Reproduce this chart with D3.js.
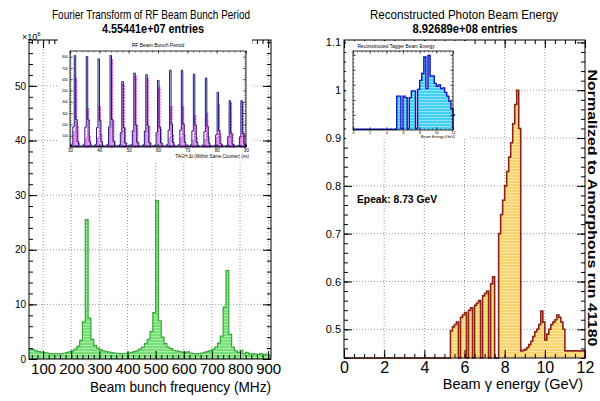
<!DOCTYPE html>
<html>
<head>
<meta charset="utf-8">
<script src="https://cdn.jsdelivr.net/npm/d3@7"></script>
<style>
  body { margin: 0; background: #fff; }
  svg { display: block; }
  text { font-family: 'Liberation Sans', Arial, Helvetica, sans-serif; }
</style>
</head>
<body>
<svg id="chart" width="600" height="401"></svg>
<script>
// ---- data ----
// left: FFT of RF bunch period, 10 MHz bins starting at 50 MHz (units of 1e6)
const freqStart = 50
const freqStep = 10
const freqCounts = [
    1.9, 1.7, 1.5, 1.35, 1.25, 1.15, 1.1, 1.0, 0.95, 0.95,
    0.95, 1.0, 1.05, 1.15, 1.3, 1.5, 1.8, 2.3, 3.4, 6.8,
    25.5, 7.5, 3.6, 2.5, 2.0, 1.7, 1.5, 1.35, 1.25, 1.15,
    1.1, 1.05, 1.0, 1.0, 1.05, 1.1, 1.2, 1.35, 1.5, 1.8,
    2.2, 2.8, 3.6, 5.0, 8.5, 29.0, 7.0, 4.0, 2.8, 2.2,
    1.9, 1.6, 1.5, 1.35, 1.25, 1.15, 1.3, 1.1, 1.0, 1.0,
    0.95, 1.1, 1.2, 1.35, 1.55, 1.8, 2.2, 2.9, 4.2, 9.5,
    16.2, 4.5, 2.2, 1.5, 1.2, 1.6, 1.0, 1.2, 0.9, 1.0,
    0.9, 0.85, 1.0, 0.8, 0.9, 0.7
]
const freqTicks = [100, 200, 300, 400, 500, 600, 700, 800, 900]
const countTicks = [0, 10, 20, 30, 40, 50]

// left inset: TAGH time difference peaks (ns) and heights
const rfPeakTimes = [31.7, 35.8, 39.8, 43.9, 47.9, 52.0, 56.1, 60.1, 64.2, 68.2, 72.3, 76.4, 80.4, 84.5, 88.5]
const rfBlueHeights = [810, 800, 780, 810, 580, 655, 640, 590, 680, 680, 645, 610, 485, 410, 410]
const rfPinkHeights = [610, 340, 360, 780, 560, 630, 610, 530, 360, 360, 280, 300, 380, 390, 400]
const rfProfile = [0.03, 0.22, 1, 0.3, 0.06]   // relative bin heights across one peak, 0.5 ns bins
const rfTimeTicks = [30, 40, 50, 60, 70, 80, 90]
const rfCountTicks = [100, 200, 300, 400, 500, 600, 700, 800]

// right: photon beam energy normalised to amorphous, 0.1 GeV bins from 5.3 GeV
const energyStart = 5.3
const energyStep = 0.1
const energyRatio = [
    0.497, 0.505, 0.51, 0.515, 0, 0.525, 0.53, 0.535, 0, 0.54,
    0.545, 0, 0.55, 0.555, 0.56, 0, 0.57, 0.575, 0.58, 0,
    0.595, 0.61, 0, 0, 0.70, 0.74, 0.77, 0.80, 0.83, 0.86,
    0.89, 0.93, 0.97, 1.0, 0.92, 0.455, 0.456, 0.458, 0.462, 0.468,
    0.475, 0.485, 0.495, 0.50, 0.51, 0.538, 0.515, 0.478, 0.49, 0.50,
    0.51, 0.515, 0.52, 0.53, 0.525, 0.515, 0.50, 0.455
]
const energyTicks = [0, 2, 4, 6, 8, 10, 12]
const ratioTicks = [0.5, 0.6, 0.7, 0.8, 0.9, 1, 1.1]

// right inset: tagger beam energy, 0.25 GeV bins from 5.25 GeV (relative)
const tagStart = 5.25
const tagStep = 0.25
const tagCounts = [
    0.45, 0.45, 0.02, 0.45, 0.43, 0.02, 0.43, 0.52, 0.52, 0.02,
    0.54, 0.66, 0.75, 0.97, 0.55, 0.99, 0.72, 0.72, 0.62, 0.58,
    0.60, 0.55, 0.56, 0.50, 0.45, 0.38, 0.28, 0.20
]
const tagTicks = [0, 2, 4, 6, 8, 10, 12]

// ---- layout ----
const svg = d3.select('#chart')
svg.append('rect').attr('width', 600).attr('height', 401).attr('fill', '#fff')

const fL = { x0: 29, x1: 271, y0: 40, y1: 359 }
const fR = { x0: 344, x1: 585, y0: 40, y1: 358 }

const xL = d3.scaleLinear().domain([50, 910]).range([fL.x0, fL.x1])
const yL = d3.scaleLinear().domain([0, 58.4]).range([fL.y1, fL.y0])
const xR = d3.scaleLinear().domain([0, 12]).range([fR.x0, fR.x1])
const yR = d3.scaleLinear().domain([0.44, 1.105]).range([fR.y1, fR.y0])

const defs = svg.append('defs')
function stripes(id, base, line) {
    const p = defs.append('pattern').attr('id', id)
        .attr('patternUnits', 'userSpaceOnUse').attr('width', 6).attr('height', 3)
    p.append('rect').attr('width', 6).attr('height', 3).attr('fill', base)
    p.append('rect').attr('width', 6).attr('height', 1).attr('fill', line)
}
stripes('pGreen', '#78df78', '#a6eea6')
stripes('pYellow', '#f9d46c', '#fce6a6')
stripes('pCyan', '#45cff4', '#8fe4fa')

function grid(g, x, y, f, xs, ys) {
    g.selectAll(null).data(xs).enter().append('line')
        .attr('x1', d => x(d)).attr('x2', d => x(d))
        .attr('y1', f.y0).attr('y2', f.y1)
        .attr('stroke', '#9a9a9a').attr('stroke-dasharray', '1,2')
    g.selectAll(null).data(ys).enter().append('line')
        .attr('x1', f.x0).attr('x2', f.x1)
        .attr('y1', d => y(d)).attr('y2', d => y(d))
        .attr('stroke', '#9a9a9a').attr('stroke-dasharray', '1,2')
}

// ROOT style: ticks inside the frame on all four sides
function frameTicks(g, x, y, f, o) {
    const sz = o.size || 1
    const add = (axis, tx, ty) => {
        const a = g.append('g').attr('transform', `translate(${tx},${ty})`).call(axis)
        a.select('.domain').remove()
        a.selectAll('line').attr('stroke', '#000').attr('stroke-width', o.tickWidth || 1)
        return a
    }
    add(d3.axisBottom(x).tickValues(o.xMinor).tickSize(-4 * sz).tickFormat(''), 0, f.y1)
    add(d3.axisTop(x).tickValues(o.xMinor).tickSize(-4 * sz).tickFormat(''), 0, f.y0)
    add(d3.axisLeft(y).tickValues(o.yMinor).tickSize(-4 * sz).tickFormat(''), f.x0, 0)
    add(d3.axisRight(y).tickValues(o.yMinor).tickSize(-4 * sz).tickFormat(''), f.x1, 0)
    add(d3.axisTop(x).tickValues(o.xMajor).tickSize(-8 * sz).tickFormat(''), 0, f.y0)
    add(d3.axisRight(y).tickValues(o.yMajor).tickSize(-8 * sz).tickFormat(''), f.x1, 0)
    const bx = add(d3.axisBottom(x).tickValues(o.xMajor).tickSize(-8 * sz)
        .tickPadding(o.xPad).tickFormat(o.xFmt || d3.format('')), 0, f.y1)
    bx.selectAll('text').attr('font-size', o.xFont).attr('fill', '#000')
    const ly = add(d3.axisLeft(y).tickValues(o.yMajor).tickSize(-8 * sz)
        .tickPadding(o.yPad).tickFormat(o.yFmt || d3.format('')), f.x0, 0)
    ly.selectAll('text').attr('font-size', o.yFont).attr('fill', '#000')
    g.append('rect').attr('x', f.x0).attr('y', f.y0)
        .attr('width', f.x1 - f.x0).attr('height', f.y1 - f.y0)
        .attr('fill', 'none').attr('stroke', '#000').attr('stroke-width', o.frameWidth || 1)
}

function stepPoints(start, step, vals, lead, tail) {
    const pts = vals.map((v, i) => [start + i * step, v])
    pts.push([start + vals.length * step, vals[vals.length - 1]])
    return lead.concat(pts, tail)
}

// ======== left panel ========
const gL = svg.append('g')
grid(gL, xL, yL, fL, freqTicks, countTicks.slice(1))

const ptsL = stepPoints(freqStart, freqStep, freqCounts, [], [])
gL.append('path').datum(ptsL)
    .attr('d', d3.area().x(d => xL(d[0])).y0(yL(0)).y1(d => yL(d[1])).curve(d3.curveStepAfter))
    .attr('fill', 'url(#pGreen)')
gL.append('path').datum(ptsL)
    .attr('d', d3.line().x(d => xL(d[0])).y(d => yL(d[1])).curve(d3.curveStepAfter))
    .attr('fill', 'none').attr('stroke', '#35a835').attr('stroke-width', 1.2)

// left inset
const fLi = { x0: 70, x1: 246, y0: 51, y1: 147 }
const xLi = d3.scaleLinear().domain([30, 90]).range([fLi.x0, fLi.x1])
const yLi = d3.scaleLinear().domain([0, 850]).range([fLi.y1, fLi.y0])
const gLi = svg.append('g')
gLi.append('rect').attr('x', 58).attr('y', 35).attr('width', 194).attr('height', 127).attr('fill', '#fff')
gLi.append('text').attr('x', 158).attr('y', 47).attr('text-anchor', 'middle')
    .attr('font-size', 5).text('RF Beam Bunch Period')

const peakPts = (t, h, shift) => {
    const bins = rfProfile.map((p, k) => [t + shift + (k - 2) * 0.5 - 0.25, h * p])
    return [[bins[0][0], 0]].concat(bins, [[bins[bins.length - 1][0] + 0.5, 0]])
}
rfPeakTimes.forEach((t, i) => {
    const pp = peakPts(t, rfPinkHeights[i], 0.35)
    gLi.append('path').datum(pp)
        .attr('d', d3.area().x(d => xLi(d[0])).y0(yLi(0)).y1(d => yLi(d[1])).curve(d3.curveStepAfter))
        .attr('fill', '#ea9aea').attr('stroke', '#d21ed2').attr('stroke-width', 0.8)
        .attr('stroke-dasharray', '2,1')
})
rfPeakTimes.forEach((t, i) => {
    const bp = peakPts(t, rfBlueHeights[i], 0)
    gLi.append('path').datum(bp)
        .attr('d', d3.line().x(d => xLi(d[0])).y(d => yLi(d[1])).curve(d3.curveStepAfter))
        .attr('fill', 'none').attr('stroke', '#1a1a7a').attr('stroke-width', 1)
})
gLi.append('line').attr('x1', fLi.x0).attr('x2', fLi.x1)
    .attr('y1', yLi(8)).attr('y2', yLi(8)).attr('stroke', '#1a1a7a').attr('stroke-width', 1.2)
frameTicks(gLi, xLi, yLi, fLi, {
    size: 0.35, xMajor: rfTimeTicks, xMinor: d3.range(30, 91, 2),
    yMajor: rfCountTicks, yMinor: d3.range(0, 851, 20),
    xPad: 1.5, yPad: 2, xFont: 4.5, yFont: 3.5, tickWidth: 0.6, frameWidth: 0.8
})
gLi.append('text').attr('x', fLi.x1 + 3).attr('y', 158).attr('text-anchor', 'end')
    .attr('font-size', 4.5).text('TAGH \u0394t (Within Same Counter) (ns)')

frameTicks(gL, xL, yL, fL, {
    xMajor: freqTicks, xMinor: d3.range(60, 910, 20),
    yMajor: countTicks, yMinor: d3.range(0, 58.4, 2),
    xPad: 4, yPad: 3, xFont: 15, yFont: 10
})
gL.append('text').attr('x', 22).attr('y', 40).attr('font-size', 9)
    .text('\u00d710').append('tspan').attr('dy', -4).attr('font-size', 6).text('6')

svg.append('text').attr('x', 151).attr('y', 19).attr('text-anchor', 'middle')
    .attr('font-size', 13).attr('textLength', 198).attr('lengthAdjust', 'spacingAndGlyphs')
    .text('Fourier Transform of RF Beam Bunch Period')
svg.append('text').attr('x', 153).attr('y', 33).attr('text-anchor', 'middle')
    .attr('font-size', 13).attr('font-weight', 'bold')
    .attr('textLength', 102).attr('lengthAdjust', 'spacingAndGlyphs')
    .text('4.55441e+07 entries')
svg.append('text').attr('x', 271).attr('y', 392).attr('text-anchor', 'end')
    .attr('font-size', 15.5).attr('textLength', 181).attr('lengthAdjust', 'spacingAndGlyphs')
    .text('Beam bunch frequency (MHz)')

// ======== right panel ========
const gR = svg.append('g')
grid(gR, xR, yR, fR, energyTicks.slice(1, -1), ratioTicks.slice(0, -1))

const yMin = yR.domain()[0]
const ptsR = stepPoints(energyStart, energyStep, energyRatio, [[0, 0]], [[12, 0]])
gR.append('path').datum(ptsR)
    .attr('d', d3.area().x(d => xR(d[0])).y0(fR.y1).y1(d => yR(Math.max(d[1], yMin))).curve(d3.curveStepAfter))
    .attr('fill', 'url(#pYellow)')
gR.append('path').datum(ptsR)
    .attr('d', d3.line().x(d => xR(d[0])).y(d => yR(Math.max(d[1], yMin))).curve(d3.curveStepAfter))
    .attr('fill', 'none').attr('stroke', '#8c2318').attr('stroke-width', 1.6)

gR.append('text').attr('x', 357).attr('y', 203).attr('font-size', 11).attr('font-weight', 'bold')
    .attr('textLength', 80).attr('lengthAdjust', 'spacingAndGlyphs')
    .text('Epeak: 8.73 GeV')

// right inset
const fRi = { x0: 353, x1: 453, y0: 51, y1: 130 }
const xRi = d3.scaleLinear().domain([0, 12]).range([fRi.x0, fRi.x1])
const yRi = d3.scaleLinear().domain([0, 1.05]).range([fRi.y1, fRi.y0])
const gRi = svg.append('g')
gRi.append('rect').attr('x', 346).attr('y', 41).attr('width', 124).attr('height', 98).attr('fill', '#fff')
gRi.append('text').attr('x', 396).attr('y', 48).attr('text-anchor', 'middle')
    .attr('font-size', 4.8).text('Reconstructed Tagger Beam Energy')
const ptsRi = stepPoints(tagStart, tagStep, tagCounts, [[0, 0.01]], [[12, 0.01]])
gRi.append('path').datum(ptsRi)
    .attr('d', d3.area().x(d => xRi(d[0])).y0(fRi.y1).y1(d => yRi(d[1])).curve(d3.curveStepAfter))
    .attr('fill', 'url(#pCyan)')
gRi.append('path').datum(ptsRi)
    .attr('d', d3.line().x(d => xRi(d[0])).y(d => yRi(d[1])).curve(d3.curveStepAfter))
    .attr('fill', 'none').attr('stroke', '#1010c8').attr('stroke-width', 1.4)
frameTicks(gRi, xRi, yRi, fRi, {
    size: 0.35, xMajor: tagTicks, xMinor: d3.range(0, 12.01, 0.5),
    yMajor: [0.2, 0.4, 0.6, 0.8, 1], yMinor: d3.range(0, 1.05, 0.05),
    xPad: 1.5, yPad: 2, xFont: 3.8, yFont: 3.5, tickWidth: 0.6, frameWidth: 0.8,
    yFmt: () => ''
})
gRi.append('text').attr('x', fRi.x1 + 2).attr('y', 138).attr('text-anchor', 'end')
    .attr('font-size', 3.8).text('Beam Energy (GeV)')

frameTicks(gR, xR, yR, fR, {
    xMajor: energyTicks, xMinor: d3.range(0, 12.01, 0.5),
    yMajor: ratioTicks, yMinor: d3.range(0.44, 1.105, 0.02).map(v => Math.round(v * 100) / 100),
    xPad: 4, yPad: 3, xFont: 16, yFont: 11,
    yFmt: d3.format('')
})

svg.append('text').attr('x', 464).attr('y', 19).attr('text-anchor', 'middle')
    .attr('font-size', 13).attr('textLength', 188).attr('lengthAdjust', 'spacingAndGlyphs')
    .text('Reconstructed Photon Beam Energy')
svg.append('text').attr('x', 465).attr('y', 33).attr('text-anchor', 'middle')
    .attr('font-size', 13).attr('font-weight', 'bold')
    .attr('textLength', 105).attr('lengthAdjust', 'spacingAndGlyphs')
    .text('8.92689e+08 entries')
svg.append('text').attr('x', 583).attr('y', 389).attr('text-anchor', 'end')
    .attr('font-size', 14.5)
    .text('Beam \u03b3 energy (GeV)')
svg.append('text').attr('transform', 'translate(588,208) rotate(90)')
    .attr('text-anchor', 'middle').attr('font-size', 12.5).attr('font-weight', 'bold')
    .attr('textLength', 277).attr('lengthAdjust', 'spacingAndGlyphs')
    .text('Normalized to Amorphous run 41180')
</script>
</body>
</html>
